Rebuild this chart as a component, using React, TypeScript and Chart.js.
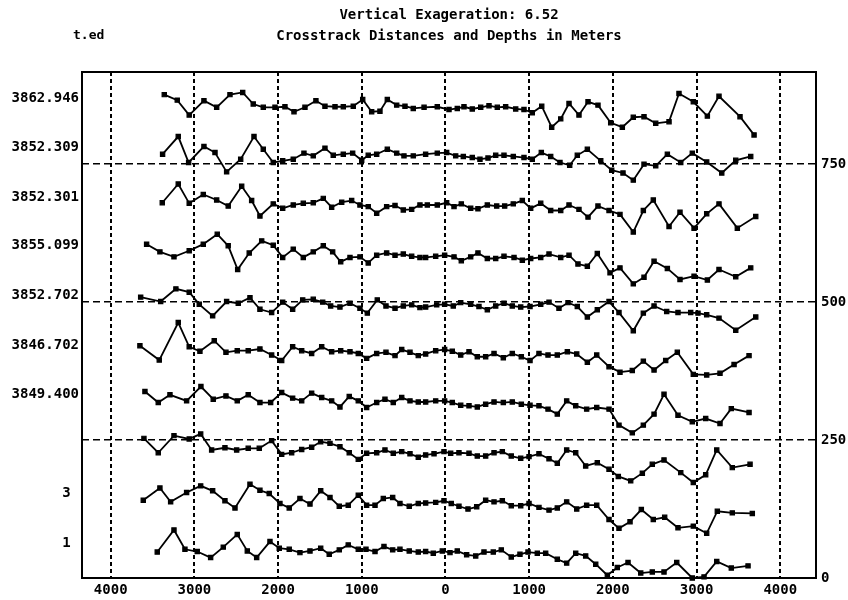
import React, { useEffect, useRef } from 'react';
import { Chart, registerables } from 'chart.js';

Chart.register(...registerables);

const FONT = "'DejaVu Sans Mono', 'Liberation Mono', monospace";

const titleLines = ['Vertical Exageration: 6.52', 'Crosstrack Distances and Depths in Meters'];
const cornerLabel = 't.ed';

const xTickValues = [-4000, -3000, -2000, -1000, 0, 1000, 2000, 3000, 4000];
const rightTickValues = [0, 250, 500, 750];

const trackLabelValues = [869, 781, 690, 602, 513, 422, 332, 153, 63];
const trackLabelTexts = ['3862.946', '3852.309', '3852.301', '3855.099', '3852.702', '3846.702', '3849.400', '3 ', '1 '];

// [crosstrack distance (m), plotted depth]
const trace1 = [
  [-3360, 876], [-3205, 866], [-3062, 839], [-2886, 865], [-2734, 853], [-2575, 876], [-2423, 880], [-2297, 859],
  [-2177, 853], [-2037, 853], [-1918, 854], [-1810, 845], [-1679, 853], [-1548, 865], [-1440, 855], [-1320, 854],
  [-1221, 854], [-1102, 855], [-989, 867], [-882, 845], [-783, 846], [-695, 867], [-583, 857], [-484, 855],
  [-385, 851], [-256, 853], [-98, 854], [42, 849], [141, 851], [221, 854], [320, 850], [421, 853], [520, 856],
  [619, 853], [719, 854], [839, 850], [938, 849], [1037, 843], [1150, 855], [1269, 817], [1377, 832], [1476, 860],
  [1595, 839], [1703, 863], [1822, 857], [1974, 825], [2113, 817], [2244, 835], [2372, 836], [2512, 824],
  [2671, 827], [2790, 878], [2961, 863], [3129, 837], [3268, 873], [3519, 836], [3687, 803],
];

const trace2 = [
  [-3380, 768], [-3193, 800], [-3069, 753], [-2886, 782], [-2754, 771], [-2615, 736], [-2447, 759], [-2288, 800],
  [-2177, 777], [-2058, 753], [-1945, 756], [-1819, 759], [-1691, 770], [-1580, 765], [-1440, 779], [-1341, 766],
  [-1221, 768], [-1109, 770], [-1001, 757], [-923, 766], [-822, 768], [-695, 777], [-583, 770], [-496, 765],
  [-385, 765], [-237, 768], [-98, 770], [14, 771], [122, 765], [213, 764], [320, 762], [412, 759], [508, 761],
  [600, 766], [699, 766], [810, 764], [938, 762], [1037, 759], [1145, 771], [1257, 764], [1368, 753], [1484, 748],
  [1575, 766], [1695, 777], [1855, 756], [1986, 739], [2121, 734], [2244, 721], [2372, 750], [2512, 747],
  [2651, 768], [2811, 753], [2949, 770], [3121, 754], [3301, 734], [3468, 757], [3647, 764],
];

const trace3 = [
  [-3384, 680], [-3193, 714], [-3062, 679], [-2894, 695], [-2734, 685], [-2596, 674], [-2435, 710], [-2316, 684],
  [-2217, 656], [-2058, 678], [-1945, 670], [-1819, 676], [-1699, 679], [-1580, 680], [-1460, 688], [-1360, 672],
  [-1240, 681], [-1121, 684], [-1022, 676], [-923, 673], [-822, 661], [-703, 673], [-603, 675], [-504, 667],
  [-404, 668], [-305, 676], [-217, 676], [-98, 676], [14, 680], [102, 673], [189, 678], [301, 670], [388, 669],
  [500, 676], [612, 674], [707, 674], [810, 678], [918, 684], [1018, 670], [1138, 679], [1257, 666], [1377, 666],
  [1476, 676], [1595, 668], [1703, 654], [1822, 674], [1954, 666], [2085, 659], [2244, 627], [2364, 666],
  [2483, 685], [2671, 637], [2802, 663], [2970, 634], [3121, 660], [3268, 678], [3487, 634], [3707, 655],
];

const trace4 = [
  [-3571, 605], [-3412, 591], [-3244, 582], [-3062, 593], [-2894, 605], [-2727, 623], [-2596, 602], [-2483, 559],
  [-2345, 589], [-2196, 611], [-2058, 603], [-1945, 581], [-1819, 596], [-1699, 581], [-1580, 591], [-1460, 602],
  [-1348, 591], [-1252, 573], [-1141, 581], [-1022, 582], [-923, 571], [-822, 585], [-703, 589], [-603, 585],
  [-504, 587], [-404, 583], [-305, 581], [-237, 581], [-117, 583], [-10, 585], [102, 582], [189, 575], [301, 582],
  [388, 589], [500, 579], [600, 579], [699, 583], [819, 581], [918, 576], [1018, 579], [1138, 581], [1237, 587],
  [1377, 581], [1476, 585], [1583, 569], [1695, 565], [1814, 588], [1966, 553], [2085, 562], [2244, 533],
  [2372, 545], [2492, 574], [2651, 561], [2802, 541], [2970, 547], [3129, 540], [3268, 559], [3468, 546], [3647, 562],
];

const trace5 = [
  [-3642, 509], [-3403, 501], [-3221, 524], [-3062, 518], [-2942, 496], [-2782, 475], [-2615, 501], [-2476, 498],
  [-2336, 508], [-2217, 487], [-2077, 481], [-1945, 500], [-1826, 487], [-1706, 504], [-1580, 505], [-1467, 500],
  [-1372, 493], [-1261, 491], [-1141, 498], [-1022, 489], [-934, 480], [-815, 504], [-711, 493], [-603, 489],
  [-504, 493], [-404, 495], [-305, 490], [-237, 491], [-105, 495], [-10, 496], [93, 493], [182, 499], [301, 496],
  [400, 492], [500, 486], [600, 493], [699, 498], [798, 493], [899, 491], [1010, 492], [1138, 496], [1237, 500],
  [1356, 489], [1464, 499], [1575, 492], [1695, 473], [1814, 486], [1954, 501], [2073, 481], [2244, 448],
  [2364, 480], [2492, 493], [2643, 483], [2778, 481], [2930, 481], [3017, 480], [3121, 477], [3268, 471],
  [3468, 449], [3707, 473],
];

const trace6 = [
  [-3651, 421], [-3420, 395], [-3193, 463], [-3062, 419], [-2934, 411], [-2763, 430], [-2623, 409], [-2488, 412],
  [-2357, 412], [-2217, 415], [-2077, 404], [-1957, 394], [-1826, 419], [-1718, 412], [-1599, 407], [-1479, 419],
  [-1360, 410], [-1252, 412], [-1141, 410], [-1042, 407], [-942, 398], [-822, 407], [-711, 409], [-603, 403],
  [-523, 414], [-424, 409], [-325, 403], [-237, 406], [-117, 412], [-10, 414], [81, 411], [182, 404], [281, 410],
  [380, 401], [480, 401], [580, 407], [691, 399], [798, 407], [906, 401], [1010, 394], [1117, 407], [1225, 404],
  [1336, 404], [1456, 410], [1568, 406], [1695, 391], [1807, 404], [1954, 383], [2085, 373], [2232, 376],
  [2364, 393], [2492, 377], [2631, 394], [2770, 409], [2961, 369], [3121, 368], [3280, 371], [3448, 387], [3627, 403],
];

const trace7 = [
  [-3591, 338], [-3432, 318], [-3292, 332], [-3093, 321], [-2922, 347], [-2775, 324], [-2623, 330], [-2488, 321],
  [-2357, 332], [-2217, 318], [-2089, 318], [-1957, 336], [-1826, 326], [-1718, 321], [-1599, 335], [-1479, 327],
  [-1360, 321], [-1261, 310], [-1150, 329], [-1042, 321], [-942, 309], [-822, 318], [-723, 324], [-624, 318],
  [-523, 327], [-424, 321], [-325, 319], [-237, 319], [-117, 321], [-10, 321], [81, 318], [182, 313], [281, 312],
  [380, 310], [480, 315], [580, 319], [691, 318], [798, 319], [906, 315], [1010, 313], [1117, 312], [1225, 306],
  [1336, 297], [1448, 321], [1556, 312], [1687, 306], [1807, 309], [1954, 306], [2073, 277], [2232, 263],
  [2364, 277], [2492, 297], [2611, 333], [2778, 295], [2949, 283], [3109, 289], [3280, 280], [3415, 307], [3627, 300],
];

const trace8 = [
  [-3603, 253], [-3432, 227], [-3244, 258], [-3062, 252], [-2925, 261], [-2794, 232], [-2635, 236], [-2495, 232],
  [-2357, 235], [-2225, 235], [-2077, 249], [-1957, 224], [-1838, 227], [-1718, 233], [-1599, 237], [-1491, 247],
  [-1380, 244], [-1261, 238], [-1150, 227], [-1042, 215], [-942, 226], [-822, 227], [-723, 232], [-624, 226],
  [-523, 229], [-424, 225], [-325, 219], [-237, 223], [-137, 225], [-18, 229], [62, 226], [161, 227], [281, 226],
  [380, 221], [480, 221], [580, 227], [679, 229], [786, 221], [899, 217], [998, 220], [1117, 225], [1237, 216],
  [1336, 208], [1448, 232], [1556, 227], [1675, 203], [1814, 209], [1954, 197], [2065, 184], [2213, 176],
  [2352, 190], [2471, 206], [2611, 214], [2811, 191], [2961, 173], [3109, 187], [3241, 232], [3427, 200], [3639, 206],
];

const trace9 = [
  [-3611, 141], [-3412, 163], [-3284, 138], [-3093, 155], [-2925, 167], [-2782, 158], [-2635, 140], [-2515, 127],
  [-2336, 170], [-2217, 159], [-2106, 153], [-1978, 135], [-1867, 127], [-1739, 144], [-1619, 134], [-1491, 158],
  [-1380, 146], [-1269, 130], [-1162, 132], [-1042, 150], [-942, 132], [-842, 132], [-743, 144], [-631, 146],
  [-544, 135], [-433, 130], [-325, 135], [-237, 136], [-117, 137], [-18, 140], [69, 135], [161, 130], [269, 125],
  [373, 129], [480, 141], [580, 138], [679, 140], [786, 131], [899, 131], [998, 135], [1117, 128], [1237, 123],
  [1336, 127], [1448, 138], [1568, 125], [1687, 132], [1807, 132], [1954, 106], [2073, 90], [2205, 102],
  [2340, 124], [2483, 106], [2619, 110], [2778, 91], [2961, 94], [3121, 81], [3248, 121], [3427, 118], [3666, 117],
];

const trace10 = [
  [-3444, 47], [-3244, 87], [-3113, 52], [-2966, 48], [-2806, 37], [-2655, 56], [-2488, 79], [-2368, 49],
  [-2256, 37], [-2097, 66], [-1986, 54], [-1867, 52], [-1739, 46], [-1619, 49], [-1491, 54], [-1389, 43],
  [-1269, 51], [-1162, 60], [-1042, 52], [-950, 52], [-842, 48], [-735, 57], [-631, 51], [-544, 52],
  [-433, 49], [-325, 47], [-237, 48], [-146, 45], [-38, 49], [54, 46], [141, 49], [253, 42], [361, 40],
  [460, 47], [571, 47], [667, 51], [786, 38], [890, 43], [986, 47], [1097, 45], [1197, 45], [1336, 34],
  [1448, 27], [1556, 45], [1675, 40], [1795, 25], [1934, 5], [2053, 19], [2181, 28], [2333, 9], [2471, 11],
  [2611, 11], [2763, 28], [2949, 0], [3089, 2], [3241, 30], [3415, 18], [3615, 22],
];

const traces = [trace1, trace2, trace3, trace4, trace5, trace6, trace7, trace8, trace9, trace10];

const framePlugin = {
  id: 'frameAndCorner',
  beforeDatasetsDraw(chart: any) {
    const { ctx, chartArea: a } = chart;
    ctx.save();
    ctx.strokeStyle = '#000';
    ctx.lineWidth = 2;
    ctx.strokeRect(a.left, a.top, a.right - a.left, a.bottom - a.top);
    ctx.restore();
  },
  afterDraw(chart: any) {
    const { ctx } = chart;
    ctx.save();
    ctx.fillStyle = '#000';
    ctx.font = `bold 13px ${FONT}`;
    ctx.textBaseline = 'middle';
    ctx.textAlign = 'left';
    ctx.fillText(cornerLabel, 73, 36);
    ctx.restore();
  },
};

export default function App() {
  const canvasRef = useRef<HTMLCanvasElement | null>(null);

  useEffect(() => {
    if (!canvasRef.current) return;
    const tickFont = { family: FONT, size: 14, weight: 'bold' as const };
    const chart = new Chart(canvasRef.current, {
      type: 'line',
      data: {
        datasets: traces.map((t) => ({
          data: t.map(([x, y]) => ({ x, y })),
          borderColor: '#000',
          backgroundColor: '#000',
          borderWidth: 1.8,
          pointStyle: 'rect',
          pointRadius: 3,
          pointBorderWidth: 1.2,
          pointBackgroundColor: '#000',
          pointBorderColor: '#000',
          tension: 0,
          fill: false,
          clip: false as any,
          xAxisID: 'x',
          yAxisID: 'y',
        })),
      },
      options: {
        animation: false,
        responsive: false,
        maintainAspectRatio: false,
        devicePixelRatio: 1,
        layout: { padding: 0 },
        events: [],
        plugins: {
          legend: { display: false },
          tooltip: { enabled: false },
          title: {
            display: true,
            text: titleLines,
            fullSize: false,
            color: '#000',
            font: { family: FONT, size: 14, weight: 'bold', lineHeight: 1.5 },
            padding: { top: 4.5, bottom: 25.5 },
          },
        },
        scales: {
          x: {
            type: 'linear',
            position: 'bottom',
            min: -4343,
            max: 4427,
            afterBuildTicks: (s: any) => {
              s.ticks = xTickValues.map((v) => ({ value: v }));
            },
            afterFit: (s: any) => {
              s.height = 22;
            },
            ticks: {
              callback: (v: any) => String(Math.abs(Number(v))),
              color: '#000',
              font: tickFont,
              padding: 4,
              maxRotation: 0,
              autoSkip: false,
            },
            grid: { color: '#000', lineWidth: 2, drawTicks: false },
            border: { display: false, dash: [4, 3] },
          },
          y: {
            type: 'linear',
            position: 'right',
            min: 0,
            max: 917,
            afterBuildTicks: (s: any) => {
              s.ticks = rightTickValues.map((v) => ({ value: v }));
            },
            afterFit: (s: any) => {
              s.width = 32;
            },
            ticks: { color: '#000', font: tickFont, padding: 5, autoSkip: false },
            grid: {
              color: (c: any) => (c.tick && c.tick.value === 0 ? 'rgba(0,0,0,0)' : '#000'),
              lineWidth: 1.6,
              drawTicks: false,
            },
            border: { display: false, dash: [7, 4] },
          },
          yL: {
            type: 'linear',
            position: 'left',
            min: 0,
            max: 917,
            afterBuildTicks: (s: any) => {
              s.ticks = trackLabelValues.map((v) => ({ value: v }));
            },
            afterFit: (s: any) => {
              s.width = 82;
            },
            ticks: {
              callback: (_v: any, i: number) => trackLabelTexts[i],
              color: '#000',
              font: tickFont,
              padding: 3,
              autoSkip: false,
            },
            grid: { display: false, drawTicks: false },
            border: { display: false },
          },
        },
      } as any,
      plugins: [framePlugin],
    });
    return () => chart.destroy();
  }, []);

  return (
    <div style={{ position: 'absolute', left: 0, top: 0, width: 848, height: 600, background: '#fff' }}>
      <canvas ref={canvasRef} width={848} height={600} style={{ display: 'block' }} />
    </div>
  );
}
